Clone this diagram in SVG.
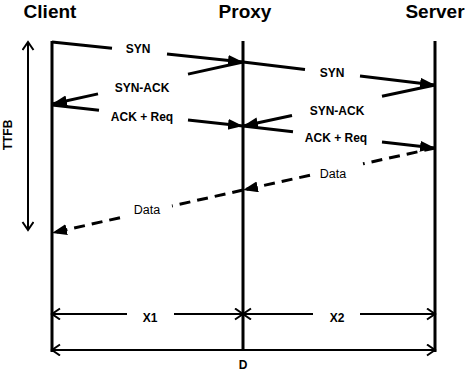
<svg xmlns="http://www.w3.org/2000/svg" width="468" height="372" viewBox="0 0 468 372">
<defs>
<style>
.hdr{font-family:"Liberation Sans",Arial,sans-serif;font-weight:bold;font-size:19px;fill:#000;text-anchor:middle}
.lbl{font-family:"Liberation Sans",Arial,sans-serif;font-weight:bold;font-size:12px;fill:#000;text-anchor:middle}
.dl{font-family:"Liberation Sans",Arial,sans-serif;font-size:12.5px;fill:#000;text-anchor:middle}
.life{stroke:#000;stroke-width:3;fill:none}
.msg{stroke:#000;stroke-width:3;fill:none;marker-end:url(#head)}
.dash{stroke:#000;stroke-width:3;fill:none;stroke-dasharray:11 7;marker-end:url(#head)}
.dim{stroke:#000;stroke-width:2;fill:none;marker-start:url(#chev);marker-end:url(#chev)}
</style>
<marker id="head" markerUnits="userSpaceOnUse" markerWidth="16" markerHeight="12" refX="15" refY="5.5" orient="auto">
<path d="M0,0 L15,5.5 L0,11 Z" fill="#000"/>
</marker>
<marker id="chev" markerUnits="userSpaceOnUse" markerWidth="12" markerHeight="14" refX="9" refY="6" orient="auto-start-reverse">
<path d="M1,0.5 L9,6 L1,11.5" fill="none" stroke="#000" stroke-width="2"/>
</marker>
</defs>
<rect width="468" height="372" fill="#fff"/>
<g id="client">
<text class="hdr" x="50" y="18">Client</text>
<line class="life" x1="52" y1="41" x2="52" y2="352"/>
</g>
<g id="proxy">
<text class="hdr" x="245" y="18">Proxy</text>
<line class="life" x1="243" y1="41" x2="243" y2="351"/>
</g>
<g id="server">
<text class="hdr" x="435" y="18">Server</text>
<line class="life" x1="435" y1="41" x2="435" y2="352"/>
</g>
<g id="connectors">
<path class="msg" d="M52,42 L112,48.3 M167,54 L243,62"/>
<path class="msg" d="M243,62 L305,69.4 M360,76 L435,85"/>
<path class="msg" d="M435,85 L382,96.3 M292,115.5 L243,126"/>
<path class="msg" d="M243,62 L188,74.1 M98,93.9 L52,104"/>
<path class="msg" d="M52,105 L99,110.2 M188,120 L243,126"/>
<path class="msg" d="M243,126 L293,131.7 M382,141.9 L435,148"/>
<path class="dash" d="M435,148 L363,163.8 M310,175.3 L243,190"/>
<path class="dash" d="M243,190 L172,206 M120,217.7 L52,233"/>
<path class="dim" d="M28,42 L28,230"/>
<path class="dim" d="M52,314 L127,314 M174,314 L243,314"/>
<path class="dim" d="M243,314 L313,314 M360,314 L435,314"/>
<path class="dim" d="M52,350 L435,350"/>
</g>
<g id="labels">
<text class="lbl" x="138" y="53">SYN</text>
<text class="lbl" x="332" y="77">SYN</text>
<text class="lbl" x="142" y="92">SYN-ACK</text>
<text class="lbl" x="337" y="115">SYN-ACK</text>
<text class="lbl" x="142" y="121">ACK + Req</text>
<text class="lbl" x="336" y="142">ACK + Req</text>
<text class="dl" x="333" y="178">Data</text>
<text class="dl" x="147" y="214">Data</text>
<text class="lbl" x="150" y="322">X1</text>
<text class="lbl" x="337" y="322">X2</text>
<text class="lbl" x="243" y="369">D</text>
<text class="lbl" font-size="11" transform="translate(12,135) rotate(-90)">TTFB</text>
</g>
</svg>
